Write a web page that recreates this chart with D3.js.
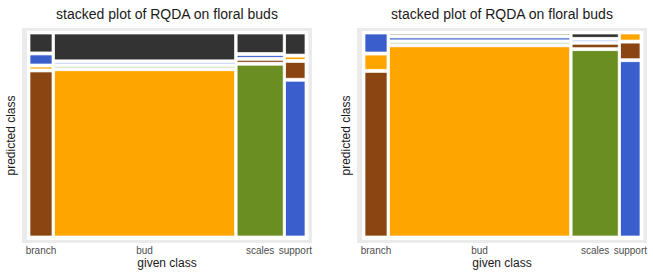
<!DOCTYPE html>
<html>
<head>
<meta charset="utf-8">
<script src="https://cdn.jsdelivr.net/npm/d3@7"></script>
<style>
  body { margin: 0; background: #fff; }
  text { font-family: "Liberation Sans", Arial, sans-serif; }
</style>
</head>
<body>
<div id="chart-area"></div>
<script>
var givenClasses = ["branch", "bud", "scales", "support"]
var predictedClasses = ["branch", "bud", "scales", "support", "other"]
var classColors = ["#8b4513", "#ffa500", "#6b8e23", "#3a5fcd", "#333333"]
// number of samples of each given class (sets the column widths)
var givenCounts = [33, 270, 69, 29]
// percent of each given class predicted as branch, bud, scales, support, other
var leftPercents = [
    [85.0, 1.0, 0, 4.7, 9.3],
    [0, 85.6, 0.5, 0.5, 13.4],
    [1.0, 0, 88.5, 0.9, 9.6],
    [8.2, 1.2, 0, 80.2, 10.4]
]
var rightPercents = [
    [83.5, 7.3, 0, 9.2, 0],
    [0, 98.0, 0.5, 1.0, 0.5],
    [1.8, 0, 96.0, 0.5, 1.7],
    [8.0, 3.1, 0, 88.9, 0]
]
var plotTitle = "stacked plot of RQDA on floral buds"
var xTitle = "given class"
var yTitle = "predicted class"

var width = 653
var height = 278
var gapX = 2.5
var gapY = 3

var svg = d3.select("#chart-area")
    .append("svg")
    .attr("width", width)
    .attr("height", height)

var color = d3.scaleOrdinal()
    .domain(predictedClasses)
    .range(classColors)

function drawMosaic(offsetX, percents) {
    var g = svg.append("g")
        .attr("transform", "translate(" + offsetX + ",0)")

    // panel
    g.append("rect")
        .attr("x", 22).attr("y", 28)
        .attr("width", 290).attr("height", 215)
        .attr("fill", "#ebebeb")
    g.append("rect")
        .attr("x", 27).attr("y", 31)
        .attr("width", 281.5).attr("height", 209)
        .attr("fill", "#ffffff")

    var left = 30, right = 305, top = 34, bottom = 236
    var total = d3.sum(givenCounts)
    var starts = d3.cumsum([0].concat(givenCounts.slice(0, -1)))

    var convertToX = d3.scaleLinear()
        .domain([0, total])
        .range([0, right - left - gapX * (givenClasses.length - 1)])

    var columns = givenClasses.map(function(name, i) {
        var x0 = left + convertToX(starts[i]) + i * gapX
        return { name: name, x: x0, w: convertToX(givenCounts[i]), values: percents[i], index: i }
    })

    var tiles = []
    columns.forEach(function(col) {
        // correct class sits at the bottom, the rest are stacked above in class order
        var order = [col.index].concat(d3.range(predictedClasses.length).filter(function(k) { return k !== col.index }))
        order = order.filter(function(k) { return col.values[k] > 0 })
        var convertToH = d3.scaleLinear()
            .domain([0, 100])
            .range([0, bottom - top - gapY * (order.length - 1)])
        var yCursor = bottom
        order.forEach(function(k) {
            var h = convertToH(col.values[k])
            tiles.push({ x: col.x, w: col.w, y: yCursor - h, h: h, cls: predictedClasses[k] })
            yCursor = yCursor - h - gapY
        })
    })

    g.selectAll("rect.tile")
        .data(tiles)
        .enter().append("rect")
        .attr("class", "tile")
        .attr("x", function(d) { return d.x })
        .attr("y", function(d) { return d.y })
        .attr("width", function(d) { return d.w })
        .attr("height", function(d) { return d.h })
        .attr("fill", function(d) { return color(d.cls) })
        .attr("stroke", "#ffffff")
        .attr("stroke-width", 0.7)

    // tick labels under column centres
    g.selectAll("text.tick")
        .data(columns)
        .enter().append("text")
        .attr("class", "tick")
        .attr("x", function(d) { return d.x + d.w / 2 })
        .attr("y", 254)
        .attr("text-anchor", "middle")
        .attr("font-size", "10px")
        .attr("fill", "#4d4d4d")
        .text(function(d) { return d.name })

    g.append("text")
        .attr("x", 167).attr("y", 19)
        .attr("text-anchor", "middle")
        .attr("font-size", "14px")
        .attr("fill", "#1a1a1a")
        .text(plotTitle)

    g.append("text")
        .attr("x", 167).attr("y", 267)
        .attr("text-anchor", "middle")
        .attr("font-size", "12px")
        .attr("fill", "#1a1a1a")
        .text(xTitle)

    g.append("text")
        .attr("transform", "translate(15,135.5) rotate(-90)")
        .attr("text-anchor", "middle")
        .attr("font-size", "12px")
        .attr("fill", "#1a1a1a")
        .text(yTitle)
}

drawMosaic(0, leftPercents)
drawMosaic(335, rightPercents)
</script>
</body>
</html>
